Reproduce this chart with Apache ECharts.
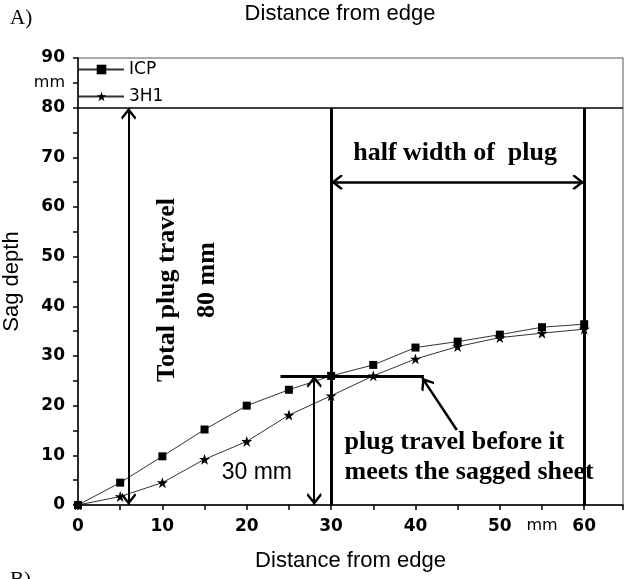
<!DOCTYPE html>
<html><head><meta charset="utf-8">
<script src="https://cdn.jsdelivr.net/npm/echarts@6/dist/echarts.min.js"></script>
<style>html,body{margin:0;padding:0;background:#fff}#c{width:625px;height:579px}</style>
</head><body><div id="c"></div>
<script>
// ---- data ----
const distance = [0, 5, 10, 15, 20, 25, 30, 35, 40, 45, 50, 55, 60];
const icpDepth = [0, 4.5, 9.8, 15.2, 20, 23.2, 26, 28.2, 31.7, 32.9, 34.3, 35.8, 36.4];
const h31Depth = [0, 1.7, 4.5, 9.2, 12.8, 18.1, 22, 26, 29.4, 31.9, 33.7, 34.6, 35.4];
const seriesNames = ['ICP', '3H1'];
const xTickLabels = {0: '0', 10: '10', 20: '20', 30: '30', 40: '40', 50: '50', 55: 'mm', 60: '60'};
const yTickLabels = {0: '0', 10: '10', 20: '20', 30: '30', 40: '40', 50: '50', 60: '60', 70: '70', 80: '80', 85: 'mm', 90: '90'};
const axisTitle = 'Distance from edge';
const yTitle = 'Sag depth';

// annotation geometry in data units (distance, depth)
const plugTravelArrow = [[6, 0], [6, 80]];
const plugEdgeLine = [[30, 0], [30, 80]];
const plugCentreLine = [[60, 0], [60, 80]];
const halfWidthArrow = [[30, 65], [60, 65]];
const contactLevelLine = [[24, 26], [41, 26]];
const contactArrow = [[28, 0], [28, 26]];
const pointerArrow = [[44.9, 15.1], [40.8, 25.6]];
const plugTopLevel = 80;

const chevron = 'path://M10,10 L20,18 L18.6,20 L10,13.4 L1.4,20 L0,18 Z M10,0 L10,0.01';
const starPath = 'path://M10,0 L12.4,7.2 L20,7.2 L13.8,11.7 L16.2,19 L10,14.5 L3.8,19 L6.2,11.7 L0,7.2 L7.6,7.2 Z';

const chart = echarts.init(document.getElementById('c'), null, {renderer: 'canvas'});

function ml(coords, width, startArrow, endArrow) {
  return [
    {coord: coords[0], symbol: startArrow ? chevron : 'none', symbolSize: [15, 24],
     lineStyle: {color: '#000', width: width, type: 'solid'}},
    {coord: coords[1], symbol: endArrow ? chevron : 'none', symbolSize: [15, 24]}
  ];
}

chart.setOption({
  animation: false,
  backgroundColor: '#fff',
  grid: {left: 78, right: 2, top: 58, bottom: 74, show: true, borderColor: '#555', borderWidth: 1, outerBoundsMode: 'none'},
  legend: {
    data: seriesNames, orient: 'vertical', left: 78, top: 61, padding: 0, itemWidth: 45, itemHeight: 12, itemGap: 10,
    textStyle: {fontFamily: 'DejaVu Sans', fontSize: 17, color: '#000'}
  },
  xAxis: {
    type: 'value', min: 0, max: 64.6, interval: 5,
    name: axisTitle, nameLocation: 'middle', nameGap: 45,
    nameTextStyle: {fontFamily: 'Liberation Sans', fontSize: 22, color: '#000'},
    axisLine: {lineStyle: {color: '#000', width: 1.5}},
    axisTick: {show: true, length: 5, lineStyle: {color: '#000', width: 1.5}},
    splitLine: {show: false},
    axisLabel: {
      margin: 13, interval: 0, color: '#000', fontFamily: 'DejaVu Sans', fontWeight: 'bold', fontSize: 17,
      formatter: v => { const t = xTickLabels[Math.round(v * 10) / 10]; if (t === undefined) return ''; return t === 'mm' ? '{u|mm}' : t; },
      rich: {u: {fontFamily: 'DejaVu Sans', fontWeight: 'normal', fontSize: 16, color: '#000'}}
    }
  },
  yAxis: {
    type: 'value', min: 0, max: 90, interval: 5,
    name: yTitle, nameLocation: 'middle', nameGap: 46, nameRotate: 90,
    nameTextStyle: {fontFamily: 'Liberation Sans', fontSize: 22, color: '#000'},
    axisLine: {show: true, lineStyle: {color: '#000', width: 1.5}},
    axisTick: {show: true, length: 5, lineStyle: {color: '#000', width: 1.5}},
    splitLine: {show: false},
    axisLabel: {
      margin: 13, interval: 0, color: '#000', fontFamily: 'DejaVu Sans', fontWeight: 'bold', fontSize: 17,
      formatter: v => { const t = yTickLabels[v]; if (t === undefined) return ''; return t === 'mm' ? '{u|mm}' : t; },
      rich: {u: {fontFamily: 'DejaVu Sans', fontWeight: 'normal', fontSize: 16, color: '#000'}}
    }
  },
  series: [
    {
      name: 'annotations', type: 'line', data: [], silent: true, z: 1,
      markLine: {
        silent: true, animation: false, symbol: ['none', 'none'],
        label: {show: false},
        emphasis: {disabled: true},
        data: [
          {yAxis: plugTopLevel, symbol: 'none', lineStyle: {color: '#000', width: 1.5, type: 'solid'}},
          ml(plugTravelArrow, 2, true, true),
          ml(plugEdgeLine, 3, false, false),
          ml(plugCentreLine, 3, false, false),
          ml(halfWidthArrow, 2.5, true, true),
          ml(contactLevelLine, 3, false, false),
          ml(contactArrow, 2, true, true),
          ml(pointerArrow, 2.5, false, true)
        ]
      }
    },
    {
      name: seriesNames[0], type: 'line', z: 3,
      data: distance.map((d, i) => [d, icpDepth[i]]),
      symbol: 'rect', symbolSize: 8, itemStyle: {color: '#000'},
      lineStyle: {color: '#333', width: 1}
    },
    {
      name: seriesNames[1], type: 'line', z: 3,
      data: distance.map((d, i) => [d, h31Depth[i]]),
      symbol: starPath, symbolSize: 11, itemStyle: {color: '#000'},
      lineStyle: {color: '#333', width: 1}
    }
  ]
});

// text annotations, positioned through the chart's own scales
const textNotes = [
  {text: 'Total plug travel', at: [10.6, 43.3], rot: true, font: 'bold 26px "Liberation Serif"', align: 'center'},
  {text: '80 mm', at: [15.3, 45.3], rot: true, font: 'bold 26px "Liberation Serif"', align: 'center'},
  {text: 'half width of  plug', at: [44.7, 70.9], font: 'bold 26px "Liberation Serif"', align: 'center'},
  {text: '30 mm', at: [21.2, 6.6], font: '23px "Liberation Sans"', align: 'center'},
  {text: 'plug travel before it', at: [31.6, 12.7], font: 'bold 26px "Liberation Serif"', align: 'left'},
  {text: 'meets the sagged sheet', at: [31.6, 6.6], font: 'bold 26px "Liberation Serif"', align: 'left'}
];
const gfx = textNotes.map(n => {
  const p = chart.convertToPixel({gridIndex: 0}, n.at);
  return {
    type: 'text', x: p[0], y: p[1], rotation: n.rot ? Math.PI / 2 : 0, z: 10,
    style: {text: n.text, font: n.font, fill: '#000', textAlign: n.align, textVerticalAlign: 'middle'}
  };
});
gfx.push({type: 'text', x: 340, y: 14, style: {text: axisTitle, font: '22px "Liberation Sans"', fill: '#000', textAlign: 'center', textVerticalAlign: 'middle'}});
gfx.push({type: 'text', x: 10, y: 18, style: {text: 'A)', font: '21px "Liberation Serif"', fill: '#000', textAlign: 'left', textVerticalAlign: 'middle'}});
gfx.push({type: 'text', x: 10, y: 580, style: {text: 'B)', font: '21px "Liberation Serif"', fill: '#000', textAlign: 'left', textVerticalAlign: 'middle'}});
chart.setOption({graphic: gfx});
</script>
</body></html>
